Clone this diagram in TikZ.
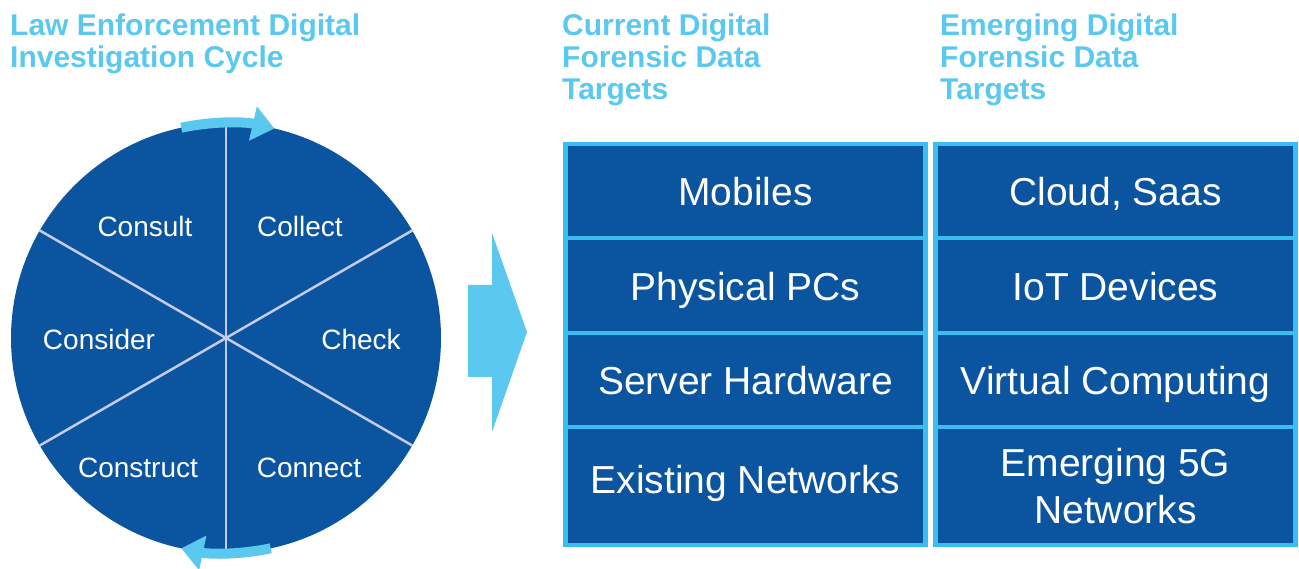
\documentclass[tikz,border=0pt]{standalone}
\usepackage{fontspec}
\setmainfont{Liberation Sans}
\usepackage{xcolor}
\usepackage{tikz}
\usetikzlibrary{arrows.meta}

\definecolor{lawblue}{HTML}{0B55A0}
\definecolor{skyline}{HTML}{5BC8F0}
\definecolor{cellrim}{HTML}{3ABEEF}
\definecolor{spoke}{HTML}{C4CBEC}

\tikzset{
  title/.style={anchor=north west, inner sep=0pt, align=left, text=skyline,
    font=\fontsize{30}{32}\selectfont\bfseries},
  phase/.style={text=white, inner sep=0pt, text height=20pt, text depth=0pt,
    font=\fontsize{28}{32}\selectfont},
  cell/.style={draw=cellrim, line width=4.5pt, fill=lawblue, minimum width=360pt,
    text=white, inner sep=0pt, align=center, font=\fontsize{39}{47}\selectfont},
  oneline/.style={text height=30pt, text depth=0pt},
  cyclearrow/.style={draw=skyline, line width=10pt,
    -{Triangle[width=34pt,length=22pt]}},
}

\begin{document}
\begin{tikzpicture}[x=1pt,y=1pt,yscale=-1,xscale=1]
\useasboundingbox (0,0) rectangle (1299,569);

% Titles
\node[title] (lawtitle) at (10,14) {Law Enforcement Digital\\Investigation Cycle};
\node[title] (nowtitle) at (562,14) {Current Digital\\Forensic Data\\Targets};
\node[title] (newtitle) at (940,14) {Emerging Digital\\Forensic Data\\Targets};

%Shape: Circle
\node[circle, fill=lawblue, minimum size=430pt, inner sep=0pt, outer sep=0pt] (wheel) at (226,338) {};
%Straight Lines
\draw[spoke, line width=2.5pt] (wheel.90) -- (wheel.270);
\draw[spoke, line width=2.5pt] (wheel.30) -- (wheel.210);
\draw[spoke, line width=2.5pt] (wheel.150) -- (wheel.330);

% Text Node
\node[phase] (consult) at (145,227) {Consult};
\node[phase] (collect) at (300,227) {Collect};
\node[phase] (consider) at (99,339) {Consider};
\node[phase] (check) at (361,339) {Check};
\node[phase] (construct) at (138,467) {Construct};
\node[phase] (connect) at (309,467) {Connect};

%Curve Lines
\draw[cyclearrow] ([shift={(-102:215)}]wheel.center) arc[start angle=-102, end angle=-77, radius=215];
\draw[cyclearrow] ([shift={(78:215)}]wheel.center) arc[start angle=78, end angle=102, radius=215];

%Shape: Right Arrow
\fill[skyline] (468,285) -- (492,285) -- (492,233) -- (527,332) -- (492,432) -- (492,377) -- (468,377) -- cycle;

%Shape: Rectangle
\node[cell, oneline, minimum height=94pt] (mobiles) at (745.5,191) {Mobiles};
\node[cell, oneline, minimum height=95pt] (pcs) at (745.5,285.5) {Physical PCs};
\node[cell, oneline, minimum height=94pt] (server) at (745.5,380) {Server Hardware};
\node[cell, oneline, text height=15pt, minimum height=118pt] (networks) at (745.5,486) {Existing Networks};

\node[cell, oneline, minimum height=94pt] (cloud) at (1115.5,191) {Cloud, Saas};
\node[cell, oneline, minimum height=95pt] (iot) at (1115.5,285.5) {IoT Devices};
\node[cell, oneline, minimum height=94pt] (virtual) at (1115.5,380) {Virtual Computing};
\node[cell, minimum height=118pt] (fiveg) at (1115.5,486) {Emerging 5G\\Networks};

\end{tikzpicture}
\end{document}
